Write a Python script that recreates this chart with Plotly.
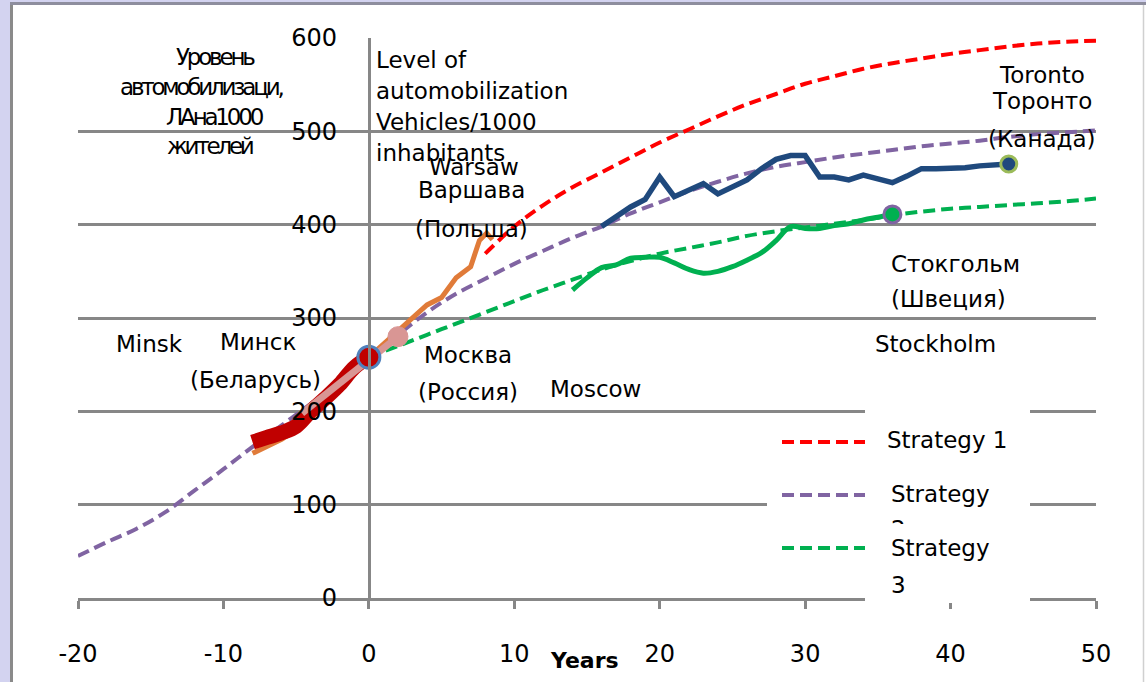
import plotly.graph_objects as go

# ---------------- data ----------------
s1_x = [8, 10, 12, 14, 16, 18, 20, 22, 24, 26, 28, 30, 32, 34, 36, 38, 40, 42, 44, 46, 48, 50]
s1_y = [369, 398, 421, 440, 456, 472, 488, 502, 516, 529, 540, 551, 559, 567, 573, 578, 583, 587, 591, 594, 596, 597]

s2_x = [-20, -18, -16, -14, -12, -10, -8, -6, -4, -2, 0, 2, 4, 6, 8, 10, 12, 14, 16, 18, 20,
        22, 24, 26, 28, 30, 32, 34, 36, 38, 40, 42, 44, 46, 48, 50]
s2_y = [45, 60, 74, 92, 115, 138, 162, 185, 208, 232, 258, 282, 306, 326, 342, 358, 372, 386, 398, 412, 424,
        436, 446, 455, 462, 467, 472, 476, 480, 484, 487, 490, 494, 497, 499, 501]

s3_x = [0, 2, 4, 6, 8, 10, 12, 14, 16, 18, 20, 22, 24, 26, 28, 30, 32, 34, 36, 38, 40, 42, 44, 46, 48, 50]
s3_y = [258, 270, 282, 294, 306, 318, 330, 341, 352, 361, 369, 375, 381, 388, 393, 397, 401, 405, 410, 414,
        417, 419, 421, 423, 425, 428]

warsaw_x = [-8, -7, -6, -5, -4, -3, -2, -1, 0, 1, 2, 3, 4, 5, 6, 7, 7.6, 8.1, 8.5]
warsaw_y = [155, 162, 170, 180, 195, 210, 225, 240, 258, 272, 287, 300, 314, 322, 343, 355, 383, 391, 384]

minsk_x = [-8, -7, -6, -5, -4, -3, -2, -1, 0]
minsk_y = [167, 172, 177, 184, 200, 214, 229, 247, 258]

moscow_x = [-4.6, -3, -1, 0, 1, 2]
moscow_y = [198, 218, 243, 256, 268, 280]

toronto_x = [16, 17, 18, 19, 20, 21, 22, 23, 24, 25, 26, 27, 28, 29, 30, 31, 32, 33, 34, 35, 36,
             37, 38, 39, 40, 41, 42, 43, 44]
toronto_y = [398, 408, 419, 427, 451, 430, 437, 444, 433, 440, 448, 460, 470, 474, 474, 451, 451, 448,
             453, 449, 445, 452, 460, 460, 460, 461, 463, 464, 465]

stock_x = [14, 15, 16, 17, 18, 19, 20, 21, 22, 23, 24, 25, 26, 27, 28, 29, 30, 31, 32, 33, 34, 35, 36]
stock_y = [330, 343, 354, 357, 364, 365, 365, 359, 352, 348, 350, 355, 362, 370, 383, 398, 396, 396,
           399, 401, 405, 408, 411]

x_ticks = [-20, -10, 0, 10, 20, 30, 40, 50]
y_ticks = [0, 100, 200, 300, 400, 500, 600]
legend_names = ["Strategy 1", "Strategy", "Strategy"]

# ---------------- layout helpers (pixel -> paper) ----------------
W, H = 1146, 682
L, R, T, B = 78, 50, 38, 84
PW, PH = W - L - R, H - T - B


def px(xp):
    return (xp - L) / PW


def py(yp):
    return (H - B - yp) / PH


FONT = "DejaVu Sans"
RED, PURPLE, GREEN = "#ff0000", "#8064a2", "#00b050"

fig = go.Figure()
dash = "12px,6px"
fig.add_trace(go.Scatter(x=s1_x, y=s1_y, mode="lines", line=dict(color=RED, width=4, dash=dash, shape="spline")))
fig.add_trace(go.Scatter(x=s2_x, y=s2_y, mode="lines", line=dict(color=PURPLE, width=4, dash=dash, shape="spline")))
fig.add_trace(go.Scatter(x=s3_x, y=s3_y, mode="lines", line=dict(color=GREEN, width=4, dash=dash, shape="spline")))
fig.add_trace(go.Scatter(x=warsaw_x, y=warsaw_y, mode="lines", line=dict(color="#e07b39", width=5)))
fig.add_trace(go.Scatter(x=stock_x, y=stock_y, mode="lines", line=dict(color=GREEN, width=5, shape="spline")))
fig.add_trace(go.Scatter(x=toronto_x, y=toronto_y, mode="lines", line=dict(color="#1f497d", width=5.5)))
fig.add_trace(go.Scatter(x=minsk_x, y=minsk_y, mode="lines", line=dict(color="#c00000", width=15, shape="spline")))
fig.add_trace(go.Scatter(x=moscow_x, y=moscow_y, mode="lines", line=dict(color="#d99694", width=7)))
# end markers
fig.add_trace(go.Scatter(x=[minsk_x[-1]], y=[minsk_y[-1]], mode="markers",
                         marker=dict(size=22, color="#c00000", line=dict(color="#4f81bd", width=3))))
fig.add_trace(go.Scatter(x=[moscow_x[-1]], y=[moscow_y[-1]], mode="markers",
                         marker=dict(size=20, color="#d99694", line=dict(color="#d99694", width=1))))
fig.add_trace(go.Scatter(x=[toronto_x[-1]], y=[toronto_y[-1]], mode="markers",
                         marker=dict(size=16, color="#1f497d", line=dict(color="#9bbb59", width=3))))
fig.add_trace(go.Scatter(x=[stock_x[-1]], y=[stock_y[-1]], mode="markers",
                         marker=dict(size=17, color=GREEN, line=dict(color=PURPLE, width=3))))

GRID = "#878787"
fig.update_layout(
    width=W, height=H,
    margin=dict(l=L, r=R, t=T, b=B),
    paper_bgcolor="white", plot_bgcolor="white",
    showlegend=False,
    font=dict(family=FONT, size=23, color="black"),
    xaxis=dict(range=[-20, 50], tickvals=x_ticks, ticktext=[str(v) for v in x_ticks],
               showgrid=False, zeroline=False, showline=True, linecolor=GRID, linewidth=3,
               ticks="outside", ticklen=8, tickwidth=3, tickcolor=GRID,
               ticklabelstandoff=24, tickfont=dict(size=24, family=FONT),
               anchor="y", domain=[0, 1]),
    yaxis=dict(range=[0, 600], tickvals=y_ticks, ticktext=[str(v) for v in y_ticks],
               showgrid=True, gridcolor=GRID, gridwidth=3, zeroline=False,
               showline=True, linecolor=GRID, linewidth=3, ticks="",
               anchor="free", position=20 / 70, ticklabelstandoff=26,
               tickfont=dict(size=24, family=FONT)),
)

shapes = []
# outer frame
shapes.append(dict(type="rect", xref="paper", yref="paper", x0=px(0), x1=px(10), y0=py(H), y1=py(0),
                   fillcolor="#d3d3f0", line=dict(width=0), layer="above"))
shapes.append(dict(type="line", xref="paper", yref="paper", x0=px(11.5), x1=px(11.5), y0=py(H), y1=py(2),
                   line=dict(color="#8a8a8a", width=3), layer="above"))
shapes.append(dict(type="rect", xref="paper", yref="paper", x0=px(10), x1=px(W), y0=py(0), y1=py(2),
                   fillcolor="#d3d3f0", line=dict(width=0), layer="above"))
shapes.append(dict(type="line", xref="paper", yref="paper", x0=px(10), x1=px(W), y0=py(3.5), y1=py(3.5),
                   line=dict(color="#8e8e9e", width=3), layer="above"))
shapes.append(dict(type="line", xref="paper", yref="paper", x0=px(1143.5), x1=px(1143.5), y0=py(H), y1=py(5),
                   line=dict(color="#d0d0d0", width=1.5), layer="above"))
# legend background
shapes.append(dict(type="rect", xref="paper", yref="paper", x0=px(865), x1=px(1030), y0=py(603), y1=py(410),
                   fillcolor="white", line=dict(width=0), layer="above"))
shapes.append(dict(type="rect", xref="paper", yref="paper", x0=px(767), x1=px(866), y0=py(509), y1=py(499),
                   fillcolor="white", line=dict(width=0), layer="above"))
# legend samples
for yy, col in [(442, RED), (495, PURPLE), (548, GREEN)]:
    shapes.append(dict(type="line", xref="paper", yref="paper", x0=px(782), x1=px(865), y0=py(yy), y1=py(yy),
                       line=dict(color=col, width=4, dash="12px,6px"), layer="above"))
fig.update_layout(shapes=shapes)

ann = []


def text(t, x, y, size=23, xanchor="center", **kw):
    ann.append(dict(text=t, x=px(x), y=py(y), xref="paper", yref="paper", showarrow=False,
                    xanchor=xanchor, yanchor="middle", font=dict(family=FONT, size=size, color="black"), **kw))


# y-axis Russian title (condensed)
for t, x, y in [("Уровень", 215, 57), ("автомобилизаци,", 201, 87), ("ЛАна1000", 215, 117), ("жителей", 210, 146)]:
    text("<span style='letter-spacing:-3.2px'>" + t + "</span>", x, y, size=23)

for t, y in [("Level of", 60), ("automobilization", 91), ("Vehicles/1000", 122), ("inhabitants", 153)]:
    text(t, 374, y, xanchor="left")

text("Warsaw", 474, 167)
text("Варшава", 471, 190)
text("(Польша)", 471, 229)
text("Toronto", 1042, 75)
text("Торонто", 1042, 101)
text("(Канада)", 1042, 139)
text("Стокгольм", 955, 264)
text("(Швеция)", 948, 299)
text("Stockholm", 935, 344)
text("Minsk", 149, 344)
text("Минск", 258, 342)
text("(Беларусь)", 255, 380)
text("Москва", 468, 355)
text("(Россия)", 468, 392)
text("Moscow", 595, 389)
text("<b>Years</b>", 584, 660, size=22)

# legend labels
text(legend_names[0], 885, 440, xanchor="left")
text(legend_names[1], 889, 494, xanchor="left")
text(legend_names[2], 889, 548, xanchor="left")
text("3", 889, 585, xanchor="left")
ann.append(dict(text="2", x=px(889), y=py(514), xref="paper", yref="paper", showarrow=False,
                xanchor="left", yanchor="top", height=8, valign="top",
                font=dict(family=FONT, size=23, color="black")))

fig.update_layout(annotations=ann)
fig.write_html("out.html", config={"displayModeBar": False},
               post_script="document.body.style.margin='0';document.body.style.overflow='hidden';")
